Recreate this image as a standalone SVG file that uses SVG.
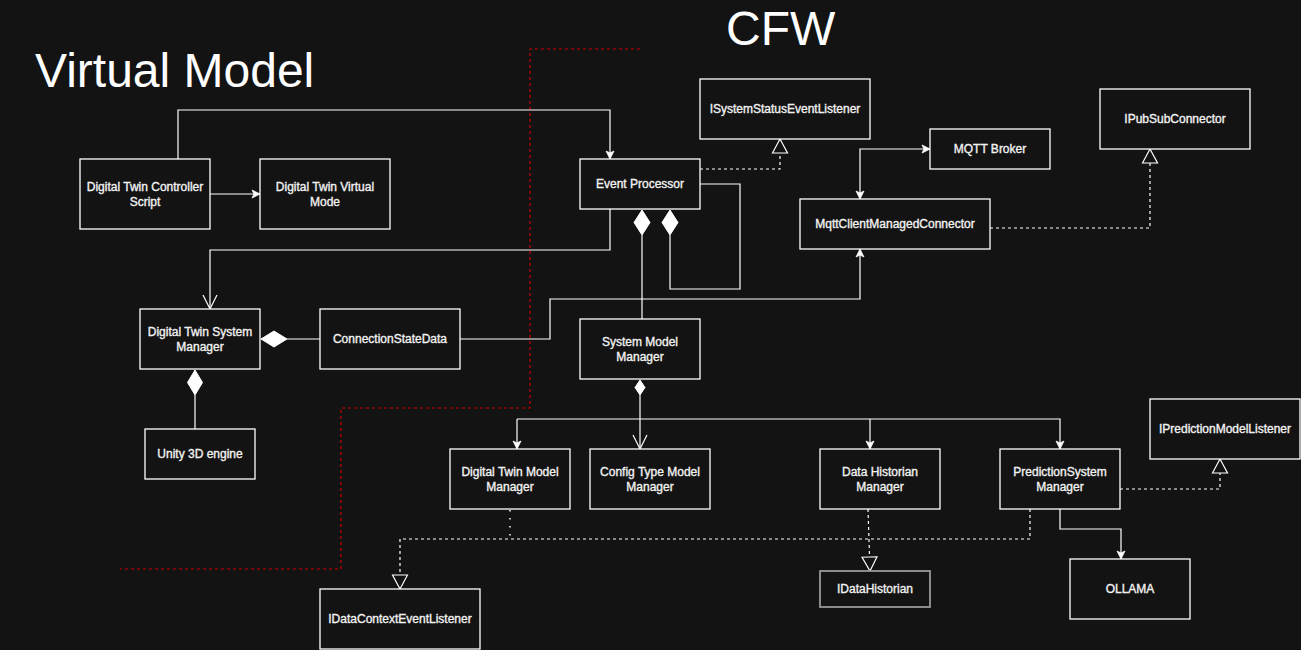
<svg xmlns="http://www.w3.org/2000/svg" width="1301" height="650" viewBox="0 0 1301 650">
<style>
.box{fill:#131313;stroke:#ffffff;stroke-width:1.3}
.t{font-family:"Liberation Sans",Arial,Helvetica,sans-serif;font-size:12px;fill:#f2f2f2;stroke:#f2f2f2;stroke-width:0.35;text-anchor:middle}
.title{font-family:"Liberation Sans",Arial,Helvetica,sans-serif;font-size:48px;fill:#ffffff}
.ln{fill:none;stroke:#ffffff;stroke-width:1.2}
.dash{fill:none;stroke:#ffffff;stroke-width:1.2;stroke-dasharray:3 3}
.dot{fill:none;stroke:#ffffff;stroke-width:1.5;stroke-dasharray:1.5 6.5}
.dia{fill:#ffffff;stroke:#ffffff;stroke-width:1}
.bound{fill:none;stroke:#d00000;stroke-width:1.2;stroke-dasharray:3 3}
</style>
<defs>
<marker id="arr" markerUnits="userSpaceOnUse" markerWidth="10" markerHeight="10" refX="8" refY="4" orient="auto-start-reverse" overflow="visible">
<path d="M0,0 L8,4 L0,8 L2,4 z" fill="#ffffff" stroke="#ffffff" stroke-width="0.8"/>
</marker>
<marker id="open" markerUnits="userSpaceOnUse" markerWidth="16" markerHeight="16" refX="14" refY="7" orient="auto" overflow="visible">
<path d="M0,0 L14,7 L0,14" fill="none" stroke="#ffffff" stroke-width="1.2"/>
</marker>
<marker id="tri" markerUnits="userSpaceOnUse" markerWidth="16" markerHeight="16" refX="14" refY="7.5" orient="auto" overflow="visible">
<path d="M0,0 L14,7.5 L0,15 z" fill="#131313" stroke="#ffffff" stroke-width="1.2"/>
</marker>
</defs>
<rect width="1301" height="650" fill="#131313"/>

<text class="title" x="35" y="87">Virtual Model</text>
<text class="title" x="726" y="45">CFW</text>

<path class="bound" d="M640,49 H530 V408 H341 V569 H120"/>

<g id="connectors">
<path class="ln" d="M178,159 V110 H610 V159" marker-end="url(#arr)"/>
<path class="ln" d="M210,194 H260" marker-end="url(#arr)"/>
<path class="ln" d="M610,209 V250 H210 V309" marker-end="url(#open)"/>
<path class="ln" d="M700,184 H740 V289 H670 V235"/>
<polygon class="dia" points="670,210 678,222.5 670,235 662,222.5"/>
<path class="ln" d="M642,235 V319"/>
<polygon class="dia" points="642,210 650,222.5 642,235 634,222.5"/>
<path class="ln" d="M460,339 H550 V299 H860 V249" marker-end="url(#arr)"/>
<path class="ln" d="M287,339 H320"/>
<polygon class="dia" points="261,339 274,331 287,339 274,347"/>
<path class="ln" d="M195,395 V429"/>
<polygon class="dia" points="195,370 202.5,382.5 195,395 187.5,382.5"/>
<path class="dash" d="M700,169 H780 V139" marker-end="url(#tri)"/>
<path class="ln" d="M930,149 H860 V199" marker-start="url(#arr)" marker-end="url(#arr)"/>
<path class="dash" d="M990,228 H1150 V149" marker-end="url(#tri)"/>
<polygon class="dia" points="640,380 645,387.5 640,395 635,387.5"/>
<path class="ln" d="M640,395 V449" marker-end="url(#open)"/>
<path class="ln" d="M517,419 H1060 V449" marker-end="url(#arr)"/>
<path class="ln" d="M517,419 V449" marker-end="url(#arr)"/>
<path class="ln" d="M870,419 V449" marker-end="url(#arr)"/>
<path class="dot" d="M510,510 V539"/>
<path class="dash" d="M1030,509 V539 H400 V589" marker-end="url(#tri)"/>
<path class="dash" d="M868,509 L870,571" marker-end="url(#tri)"/>
<path class="dash" d="M1120,489 H1220 V459" marker-end="url(#tri)"/>
<path class="ln" d="M1060,509 V529 H1121 V559" marker-end="url(#arr)"/>
</g>

<g id="dt-controller"><rect class="box" x="80" y="159" width="130" height="70"/><text class="t" x="145" y="191">Digital Twin Controller<tspan x="145" dy="15">Script</tspan></text></g>
<g id="dt-virtual"><rect class="box" x="260" y="159" width="130" height="70"/><text class="t" x="325" y="191">Digital Twin Virtual<tspan x="325" dy="15">Mode</tspan></text></g>
<g id="event-processor"><rect class="box" x="580" y="159" width="120" height="50"/><text class="t" x="640" y="188">Event Processor</text></g>
<g id="isystemstatus"><rect class="box" x="700" y="79" width="170" height="60"/><text class="t" x="785" y="113">ISystemStatusEventListener</text></g>
<g id="mqtt-broker"><rect class="box" x="930" y="129" width="120" height="40"/><text class="t" x="990" y="153">MQTT Broker</text></g>
<g id="ipubsub"><rect class="box" x="1100" y="89" width="150" height="60"/><text class="t" x="1175" y="123">IPubSubConnector</text></g>
<g id="mqtt-client"><rect class="box" x="800" y="199" width="190" height="50"/><text class="t" x="895" y="228">MqttClientManagedConnector</text></g>
<g id="dt-system-manager"><rect class="box" x="140" y="309" width="120" height="60"/><text class="t" x="200" y="336">Digital Twin System<tspan x="200" dy="15">Manager</tspan></text></g>
<g id="connection-state"><rect class="box" x="320" y="309" width="140" height="60"/><text class="t" x="390" y="343">ConnectionStateData</text></g>
<g id="unity"><rect class="box" x="145" y="429" width="110" height="50"/><text class="t" x="200" y="458">Unity 3D engine</text></g>
<g id="system-model-manager"><rect class="box" x="580" y="319" width="120" height="60"/><text class="t" x="640" y="346">System Model<tspan x="640" dy="15">Manager</tspan></text></g>
<g id="dt-model-manager"><rect class="box" x="450" y="449" width="120" height="60"/><text class="t" x="510" y="476">Digital Twin Model<tspan x="510" dy="15">Manager</tspan></text></g>
<g id="config-type"><rect class="box" x="590" y="449" width="120" height="60"/><text class="t" x="650" y="476">Config Type Model<tspan x="650" dy="15">Manager</tspan></text></g>
<g id="data-historian-manager"><rect class="box" x="820" y="449" width="120" height="60"/><text class="t" x="880" y="476">Data Historian<tspan x="880" dy="15">Manager</tspan></text></g>
<g id="prediction-manager"><rect class="box" x="1000" y="449" width="120" height="60"/><text class="t" x="1060" y="476">PredictionSystem<tspan x="1060" dy="15">Manager</tspan></text></g>
<g id="iprediction"><rect class="box" x="1150" y="399" width="150" height="60"/><text class="t" x="1225" y="433">IPredictionModelListener</text></g>
<g id="idatahistorian"><rect class="box" x="820" y="571" width="110" height="36" style="stroke:#9a9a9a;stroke-width:1.8"/><text class="t" x="875" y="593">IDataHistorian</text></g>
<g id="idatacontext"><rect class="box" x="320" y="589" width="160" height="60"/><text class="t" x="400" y="623">IDataContextEventListener</text></g>
<g id="ollama"><rect class="box" x="1070" y="559" width="120" height="60"/><text class="t" x="1130" y="593">OLLAMA</text></g>
</svg>
